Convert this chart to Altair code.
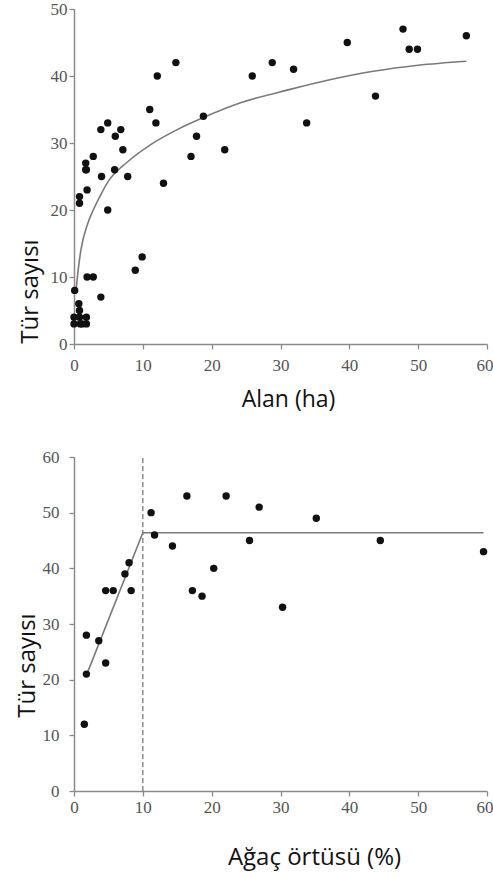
import altair as alt
import pandas as pd

# ---- Top panel: species vs area ----
area_x = [0.0, 0.0, 0.7, 0.8, 0.8, 0.9, 1.8, 1.8, 1.2, 0.1,
          1.9, 2.8, 3.9, 8.9, 9.9,
          0.8, 0.8, 1.9, 4.9, 1.7, 1.7, 1.8, 2.8, 3.9, 4.9, 4.0,
          5.9, 6.0, 6.8, 7.1, 7.8,
          11.0, 11.9, 12.1, 14.8, 13.0, 17.0, 17.8, 18.8, 21.9,
          25.9, 28.8, 31.9, 33.8, 39.7, 43.8, 47.8, 48.7, 49.9, 57.0]
area_y = [4, 3, 6, 5, 4, 3, 4, 3, 3, 8,
          10, 10, 7, 11, 13,
          22, 21, 23, 20, 26, 27, 26, 28, 32, 33, 25,
          26, 31, 32, 29, 25,
          35, 33, 40, 42, 24, 28, 31, 34, 29,
          40, 42, 41, 33, 45, 37, 47, 44, 44, 46]

curve_x = [0.3, 0.6, 1.0, 2.0, 2.8, 3.9, 5.0, 7.8, 11.2, 15.0, 18.8, 24.2, 31.4, 37.0, 43.5, 50.0, 57.0]
curve_y = [8.0, 11.0, 14.0, 18.0, 20.0, 22.3, 24.3, 27.2, 29.8, 32.0, 33.8, 36.0, 38.0, 39.4, 40.7, 41.6, 42.2]

# ---- Bottom panel: species vs tree cover ----
cover_x = [1.5, 1.8, 1.8, 3.6, 4.6, 4.6, 5.7, 7.4, 8.0, 8.3, 11.2, 11.7,
           14.3, 16.4, 17.2, 18.6, 20.3, 22.1, 25.5, 26.9, 30.3, 35.2, 44.5, 59.5]
cover_y = [12, 21, 28, 27, 23, 36, 36, 39, 41, 36, 50, 46,
           44, 53, 36, 35, 40, 53, 45, 51, 33, 49, 45, 43]

break_x = [2.0, 10.0, 59.5]
break_y = [21.4, 46.4, 46.4]

threshold_x = [10]
threshold_y0 = [0]
threshold_y1 = [60]

x_ticks = [0, 10, 20, 30, 40, 50, 60]
top_y_ticks = [0, 10, 20, 30, 40, 50]
bot_y_ticks = [0, 10, 20, 30, 40, 50, 60]

PW = 413
TOP_H = 335
BOT_H = 334
LINE_C = "#7a7a7a"
LABEL_FONT = "'Liberation Serif', 'Times New Roman', Times, serif"
LABEL_SIZE = 17

top_pts = pd.DataFrame({"x": area_x, "y": area_y})
top_curve = pd.DataFrame({"x": curve_x, "y": curve_y})
bot_pts = pd.DataFrame({"x": cover_x, "y": cover_y})
bot_line = pd.DataFrame({"x": break_x, "y": break_y})
bot_rule = pd.DataFrame({"x": threshold_x, "y": threshold_y0, "y2": threshold_y1})


def x_enc(title, tx, ty, pad, tsize):
    return alt.X("x:Q", scale=alt.Scale(domain=[0, 60], nice=False),
                 axis=alt.Axis(values=x_ticks, title=title, titleX=tx, titleY=ty,
                               titleBaseline="middle", titleAlign="center",
                               titleFontSize=tsize, labelPadding=pad,
                               labelFont=LABEL_FONT, labelFontSize=LABEL_SIZE,
                               labelAlign=alt.condition("datum.value == 60",
                                                        alt.value("right"), alt.value("center")),
                               labelOffset=alt.condition("datum.value == 60",
                                                         alt.value(6), alt.value(0))))


def y_enc(ticks, top, tx, ty, pad):
    return alt.Y("y:Q", scale=alt.Scale(domain=[0, top], nice=False),
                 axis=alt.Axis(values=ticks, title="Tür sayısı", titleX=tx, titleY=ty,
                               titleAngle=270, titleBaseline="middle", titleAlign="center",
                               labelPadding=pad, labelFont=LABEL_FONT, labelFontSize=LABEL_SIZE))


tx1 = x_enc("Alan (ha)", 214, 55, 8, 23)
ty1 = y_enc(top_y_ticks, 50, -44, 282, 2)

top = alt.layer(
    alt.Chart(top_curve).mark_line(color=LINE_C, strokeWidth=1.6, interpolate="monotone").encode(x=tx1, y=ty1),
    alt.Chart(top_pts).mark_circle(color="#111", opacity=1, size=55).encode(x=tx1, y=ty1),
).properties(width=PW, height=TOP_H)

tx2 = x_enc("Ağaç örtüsü (%)", 240, 66, 3, 24)
ty2 = y_enc(bot_y_ticks, 60, -47, 208, 10)

bottom = alt.layer(
    alt.Chart(bot_rule).mark_rule(color=LINE_C, strokeWidth=1.3, strokeDash=[5, 3]).encode(
        x=tx2, y=ty2, y2="y2:Q"),
    alt.Chart(bot_line).mark_line(color=LINE_C, strokeWidth=1.6).encode(x=tx2, y=ty2),
    alt.Chart(bot_pts).mark_circle(color="#111", opacity=1, size=55).encode(x=tx2, y=ty2),
).properties(width=PW, height=BOT_H)

chart = alt.vconcat(top, bottom, spacing=113, bounds="flush").properties(
    padding={"left": 15, "top": 0, "right": 0, "bottom": 8},
    background="white",
).configure_view(stroke=None).configure_axis(
    grid=False,
    domainColor="#8a8a8a",
    domainWidth=1.5,
    tickColor="#8a8a8a",
    tickWidth=1.3,
    tickSize=5,
    labelFont=LABEL_FONT,
    labelFontSize=LABEL_SIZE,
    labelColor="#555555",
    titleFont="Open Sans",
    titleFontWeight="normal",
    titleColor="#111111",
    titleFontSize=24,
)

chart.save("out.html", embed_options={"renderer": "svg", "actions": False})
